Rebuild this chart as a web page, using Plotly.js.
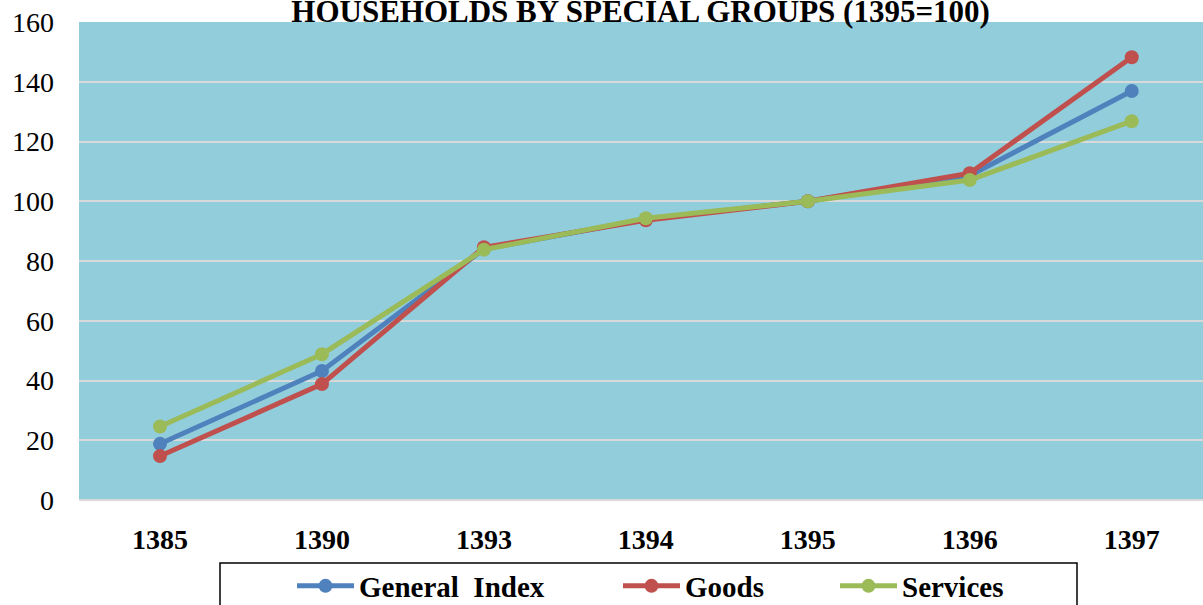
<!DOCTYPE html>
<html><head><meta charset="utf-8">
<script src="https://cdn.plot.ly/plotly-3.0.1.min.js"></script>
<style>html,body{margin:0;padding:0;background:#fff;}#chart{width:1203px;height:605px;}</style>
</head><body><div id="chart"></div>
<script>
const years = ['1385','1390','1393','1394','1395','1396','1397'];
const generalIndex = [18.8, 43.2, 84.0, 94.0, 100, 108.6, 136.9];
const goods = [14.7, 38.8, 84.6, 93.6, 100, 109.4, 148.2];
const services = [24.6, 48.8, 83.8, 94.3, 100, 107.1, 126.8];
const seriesNames = ['General\u00a0 Index', 'Goods', 'Services'];
const colors = ['#4F81BD', '#C0504D', '#9BBB59'];

const L = 79, W = 1124, T = 22, H = 478;
function px2x(p){ return (p - L) / W; }
function py2y(p){ return (T + H - p) / H; }
const FONT = 'Liberation Serif, Times New Roman, serif';

const data = [generalIndex, goods, services].map((vals, i) => ({
  x: years, y: vals, type: 'scatter', mode: 'lines+markers',
  name: seriesNames[i],
  line: {color: colors[i], width: 5},
  marker: {color: colors[i], size: 14},
  legend: i === 0 ? 'legend' : 'legend' + (i + 1)
}));

const legendBase = (xp) => ({
  x: px2x(xp), xanchor: 'left', yref: 'container', y: 1 - 586/605, yanchor: 'middle',
  orientation: 'h', bgcolor: 'rgba(0,0,0,0)', borderwidth: 0,
  itemwidth: 57,
  font: {family: FONT, size: 29, color: '#000', weight: 'bold'}
});

const layout = {
  width: 1203, height: 605,
  margin: {l: L, r: 0, t: T, b: 605 - T - H, autoexpand: false},
  paper_bgcolor: '#ffffff', plot_bgcolor: '#92CDDC',
  title: {text: '<b>HOUSEHOLDS BY SPECIAL GROUPS (1395=100)</b>',
    font: {family: FONT, size: 31, color: '#000'},
    x: 0.5325, xanchor: 'center', xref: 'container', yref: 'container', y: 1 - 11/605, yanchor: 'middle'},
  xaxis: {type: 'category', range: [-0.5, 6.44], showgrid: false, zeroline: false,
    showline: false, ticks: '', ticklabelstandoff: 20, automargin: false,
    tickfont: {family: FONT, size: 28, color: '#000', weight: 'bold'}},
  yaxis: {range: [0, 160], dtick: 20, showgrid: true, gridcolor: '#D9D9D9', gridwidth: 2,
    zeroline: true, zerolinecolor: '#D9D9D9', zerolinewidth: 2, showline: false, ticks: '',
    ticklabelstandoff: 24, automargin: false,
    tickfont: {family: FONT, size: 28, color: '#000'}},
  showlegend: true,
  legend: legendBase(292),
  legend2: legendBase(618),
  legend3: legendBase(835),
  shapes: [{type: 'rect', xref: 'paper', yref: 'paper',
    x0: px2x(220), x1: px2x(1077), y0: py2y(615), y1: py2y(563),
    line: {color: '#000', width: 1.5}, fillcolor: 'rgba(0,0,0,0)'}]
};
Plotly.newPlot('chart', data, layout, {displayModeBar: false, staticPlot: true});
</script></body></html>
